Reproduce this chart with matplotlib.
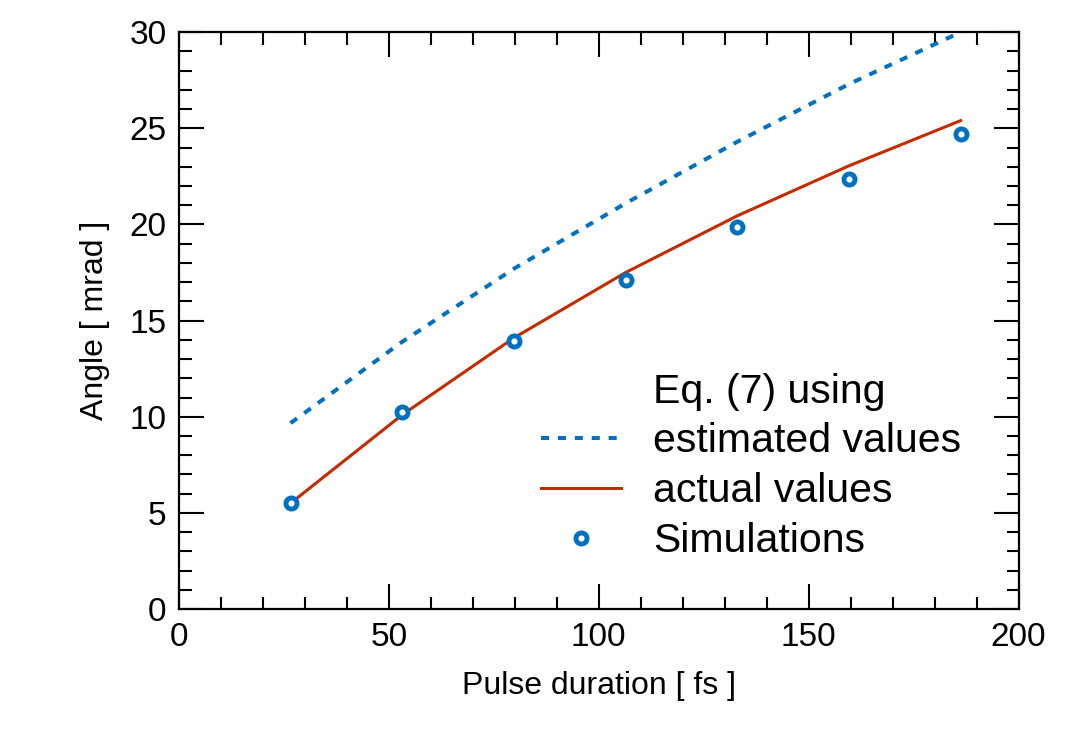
import numpy as np
import matplotlib
matplotlib.use("Agg")
import matplotlib.pyplot as plt
from matplotlib.lines import Line2D
from matplotlib.ticker import MultipleLocator

plt.rcParams['font.family'] = ['Liberation Sans', 'DejaVu Sans']

# pulse duration [fs]
pulse = [26.6, 53.2, 79.8, 106.4, 133.0, 159.6, 186.2]
# Eq. (7) with estimated values
angle_est = [9.67, 13.9, 17.7, 21.1, 24.3, 27.3, 30.0]
# Eq. (7) with actual values
angle_act = [5.5, 10.1, 14.1, 17.5, 20.45, 23.05, 25.4]
# simulation results
angle_sim = [5.5, 10.26, 13.92, 17.1, 19.88, 22.35, 24.72]

blue = '#0070C0'
red = '#C42B00'

fig = plt.figure(figsize=(10.71, 7.32), dpi=100)
ax = fig.add_axes([0.167, 0.168, 0.784, 0.788])

l_est, = ax.plot(pulse, angle_est, color=blue, lw=2.9, dashes=(2.0, 2.2))
l_act, = ax.plot(pulse, angle_act, color=red, lw=2.2)
l_sim, = ax.plot(pulse, angle_sim, 'o', ms=8, mfc='white', mec=blue, mew=3.5)

ax.set_xlim(0, 200)
ax.set_ylim(0, 30)
ax.xaxis.set_major_locator(MultipleLocator(50))
ax.xaxis.set_minor_locator(MultipleLocator(10))
ax.yaxis.set_major_locator(MultipleLocator(5))
ax.yaxis.set_minor_locator(MultipleLocator(1))
ax.tick_params(which='both', direction='in', top=True, right=True,
               width=1.5, labelsize=24, pad=9)
ax.tick_params(which='major', length=18)
ax.tick_params(which='minor', length=9)
for s in ax.spines.values():
    s.set_linewidth(1.6)

ax.set_xlabel('Pulse duration [ fs ]', fontsize=23, labelpad=13)
ax.set_ylabel('Angle [ mrad ]', fontsize=23, labelpad=14)

# first row is the heading line with no handle
blank = Line2D([], [], color='none')
ax.legend([blank, l_est, l_act, l_sim],
          ['Eq. (7) using', 'estimated values', 'actual values', 'Simulations'],
          loc='upper left', bbox_to_anchor=(0.431, 0.41), frameon=False,
          fontsize=29.5, borderpad=0, borderaxespad=0, handlelength=1.95,
          handletextpad=0.8, labelspacing=0.29)

fig.savefig('out.png', dpi=100)
